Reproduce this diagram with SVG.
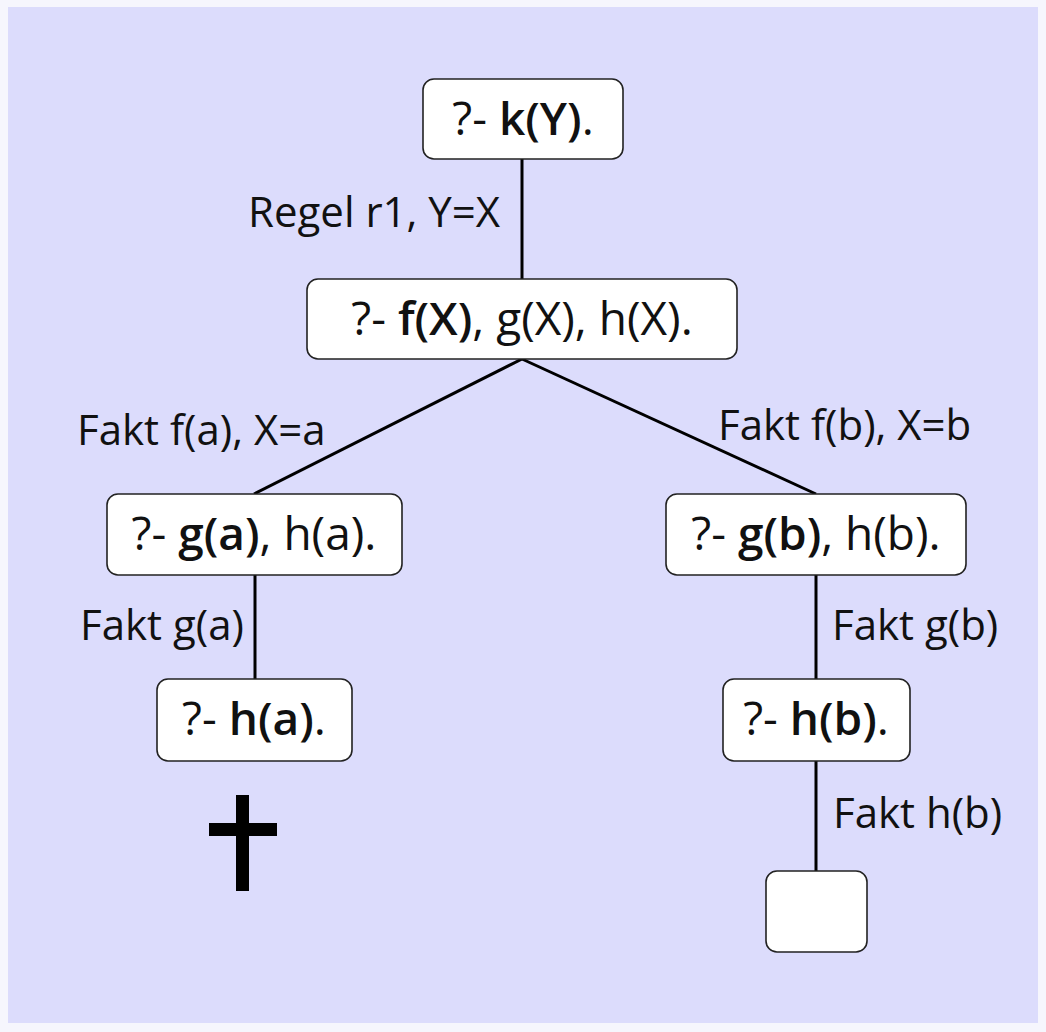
<svg xmlns="http://www.w3.org/2000/svg" width="1046" height="1032" viewBox="0 0 1046 1032">
<style>
.node{fill:#ffffff;stroke:#222;stroke-width:1.6}
.edge{stroke:#000;stroke-width:3;fill:none}
text{font-family:"Open Sans","Noto Sans","Liberation Sans",sans-serif;font-size:42px;fill:#111}
.nt{font-size:46px}
.b{font-weight:600}
</style>
<rect x="0" y="0" width="1046" height="1032" fill="#f6f6fd"/>
<rect x="8" y="7" width="1030" height="1016" fill="#dcdcfc"/>
<g id="connectors">
<line class="edge" x1="522" y1="159" x2="522" y2="279"/>
<line class="edge" x1="522" y1="359" x2="254" y2="494"/>
<line class="edge" x1="522" y1="359" x2="816" y2="494"/>
<line class="edge" x1="255" y1="575" x2="255" y2="679"/>
<line class="edge" x1="816" y1="575" x2="816" y2="679"/>
<line class="edge" x1="816" y1="761" x2="816" y2="871"/>
<text x="248" y="227">Regel r1, Y=X</text>
<text x="77" y="445">Fakt f(a), X=a</text>
<text x="718" y="440">Fakt f(b), X=b</text>
<text x="80" y="640">Fakt g(a)</text>
<text x="832" y="640">Fakt g(b)</text>
<text x="833" y="828">Fakt h(b)</text>
</g>
<g id="n-kY">
<rect class="node" x="423" y="79" width="200" height="80" rx="11"/>
<text class="nt" x="523" y="135" text-anchor="middle">?- <tspan class="b">k(Y)</tspan>.</text>
</g>
<g id="n-fX">
<rect class="node" x="307" y="279" width="430" height="80" rx="11"/>
<text class="nt" x="522" y="335" text-anchor="middle">?- <tspan class="b">f(X)</tspan>, g(X), h(X).</text>
</g>
<g id="n-ga">
<rect class="node" x="107" y="494" width="295" height="81" rx="11"/>
<text class="nt" x="254" y="550" text-anchor="middle">?- <tspan class="b">g(a)</tspan>, h(a).</text>
</g>
<g id="n-gb">
<rect class="node" x="666" y="494" width="300" height="81" rx="11"/>
<text class="nt" x="816" y="550" text-anchor="middle">?- <tspan class="b">g(b)</tspan>, h(b).</text>
</g>
<g id="n-ha">
<rect class="node" x="157" y="679" width="195" height="82" rx="11"/>
<text class="nt" x="254" y="735" text-anchor="middle">?- <tspan class="b">h(a)</tspan>.</text>
</g>
<g id="n-hb">
<rect class="node" x="723" y="679" width="187" height="82" rx="11"/>
<text class="nt" x="816" y="735" text-anchor="middle">?- <tspan class="b">h(b)</tspan>.</text>
</g>
<g id="n-empty">
<rect class="node" x="766" y="871" width="101" height="81" rx="11"/>
</g>
<g id="cross">
<rect x="236" y="795" width="13" height="96" fill="#000"/>
<rect x="209" y="823" width="68" height="13" fill="#000"/>
</g>
</svg>
